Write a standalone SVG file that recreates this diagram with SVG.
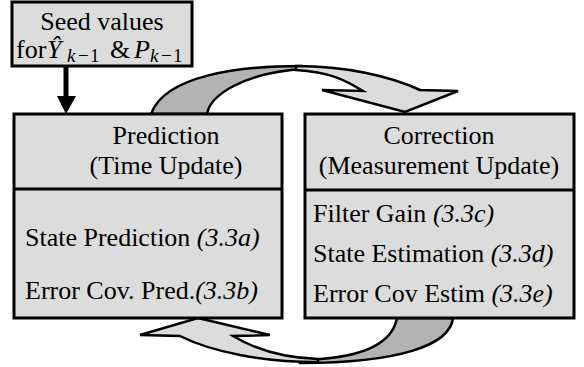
<svg xmlns="http://www.w3.org/2000/svg" width="584" height="367" viewBox="0 0 584 367">
  <style>
    .box { fill: #dcdcdc; stroke: #000; stroke-width: 3; }
    .div { stroke: #000; stroke-width: 3; }
    text { font-size: 26px; fill: #000; }
    .i { font-style: italic; }
    .sub { font-size: 19px; }
    .fl { fill: #dcdcdc; stroke: #000; stroke-width: 2.5; stroke-linejoin: miter; }
    .fd { fill: #b3b3b3; stroke: #000; stroke-width: 2.5; }
  </style>

  <!-- cycle connectors -->
  <g id="connectors">
    <!-- upper curved arrow: prediction -> correction -->
    <path class="fd" d="M151,114 C165,75 240,66 302,66 L305,69 C245,72 210,95 207,114 Z"/>
    <path class="fl" d="M296,66 C345,66 390,76 420,90 L458,91 L405,112 L322,90 L363,91 C345,80 330,72 296,70 Z"/>
    <!-- lower curved arrow: correction -> prediction -->
    <path class="fd" d="M397,318 C392,345 360,359 300,360 L300,363 C400,363 450,345 453,318 Z"/>
    <path class="fl" d="M198,318 L270,335 L233,336 C258,351 285,358 318,359 L318,362 C262,362 212,352 180,336 L140,335 Z"/>
    <!-- seed values into prediction -->
    <line x1="66" y1="66" x2="66" y2="98" stroke="#000" stroke-width="5"/>
    <polygon points="57,96 76,96 66,114" fill="#000"/>
  </g>

  <g font-family="'Liberation Serif', 'DejaVu Serif', serif">
  <!-- initial seed values -->
  <g id="seed">
    <rect class="box" x="12" y="2" width="180" height="64" stroke-width="2.5"/>
    <text x="102" y="30" text-anchor="middle">Seed values</text>
    <text y="58" font-size="25"><tspan x="16">for</tspan><tspan class="i" x="47">Ŷ</tspan><tspan class="i sub" x="67" y="62">k</tspan><tspan class="sub" x="78" y="62">−</tspan><tspan class="sub" x="90" y="62">1</tspan><tspan x="110" y="58">&amp;</tspan><tspan class="i" x="134">P</tspan><tspan class="i sub" x="150" y="62">k</tspan><tspan class="sub" x="161" y="62">−</tspan><tspan class="sub" x="173" y="62">1</tspan></text>
  </g>

  <!-- prediction step -->
  <g id="prediction">
    <rect class="box" x="14" y="114" width="268" height="204"/>
    <line class="div" x1="14" y1="189" x2="282" y2="189"/>
    <text x="166" y="144" text-anchor="middle">Prediction</text>
    <text x="166" y="174" text-anchor="middle">(Time Update)</text>
    <text x="25" y="246">State Prediction <tspan class="i">(3.3a)</tspan></text>
    <text x="25" y="299">Error Cov. Pred.<tspan class="i">(3.3b)</tspan></text>
  </g>

  <!-- correction step -->
  <g id="correction">
    <rect class="box" x="305" y="114" width="269" height="204"/>
    <line class="div" x1="305" y1="190" x2="574" y2="190"/>
    <text x="439" y="144" text-anchor="middle">Correction</text>
    <text x="439" y="174" text-anchor="middle">(Measurement Update)</text>
    <text x="313" y="222">Filter Gain <tspan class="i">(3.3c)</tspan></text>
    <text x="313" y="262">State Estimation <tspan class="i">(3.3d)</tspan></text>
    <text x="313" y="302">Error Cov Estim <tspan class="i">(3.3e)</tspan></text>
  </g>
  </g>
</svg>
